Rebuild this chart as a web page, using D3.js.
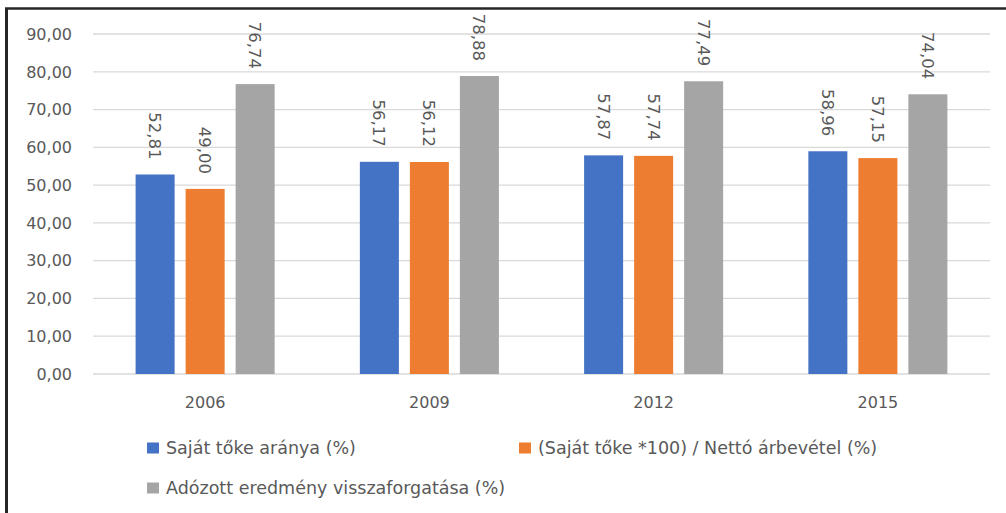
<!DOCTYPE html>
<html>
<head>
<meta charset="utf-8">
<script src="https://cdn.jsdelivr.net/npm/d3@7"></script>
<style>
  body { margin: 0; background: #fff; }
  text { font-family: "DejaVu Sans", sans-serif; fill: #595959; }
</style>
</head>
<body>
<script>
// chart values
var years = ["2006", "2009", "2012", "2015"];
var seriesNames = [
    "Saját tőke aránya (%)",
    "(Saját tőke *100) / Nettó árbevétel (%)",
    "Adózott eredmény visszaforgatása (%)"
];
var sajatToke = [52.81, 56.17, 57.87, 58.96];
var sajatTokeArbevetel = [49.00, 56.12, 57.74, 57.15];
var visszaforgatas = [76.74, 78.88, 77.49, 74.04];
var yTicks = [0, 10, 20, 30, 40, 50, 60, 70, 80, 90];
var colors = ["#4472C4", "#ED7D31", "#A5A5A5"];

var seriesValues = [sajatToke, sajatTokeArbevetel, visszaforgatas];

var svg = d3.select("body").append("svg")
    .attr("width", 1006)
    .attr("height", 513);

// frame (left + top)
svg.append("line").attr("x1", 6.5).attr("y1", 8).attr("x2", 6.5).attr("y2", 513)
    .style("stroke", "#262626").style("stroke-width", 3);
svg.append("line").attr("x1", 5).attr("y1", 8.5).attr("x2", 1006).attr("y2", 8.5)
    .style("stroke", "#262626").style("stroke-width", 2.5);

var fmt = function (v) { return d3.format(".2f")(v).replace(".", ","); };

var y = d3.scaleLinear()
    .domain([0, 90])
    .range([374, 34]);

var x0 = d3.scaleBand()
    .domain(years)
    .range([93, 990])
    .paddingInner(0.38)
    .paddingOuter(0.19);

var x1 = d3.scaleBand()
    .domain([0, 1, 2])
    .range([0, x0.bandwidth()])
    .paddingInner(0.22);

// gridlines
svg.selectAll("line.grid")
    .data(yTicks)
    .enter()
    .append("line")
    .attr("class", "grid")
    .attr("x1", 93)
    .attr("x2", 990)
    .attr("y1", function (d) { return y(d); })
    .attr("y2", function (d) { return y(d); })
    .style("stroke", "#d9d9d9")
    .style("stroke-width", 1.3);

// y labels
svg.selectAll("text.ytick")
    .data(yTicks)
    .enter()
    .append("text")
    .attr("class", "ytick")
    .attr("x", 72)
    .attr("y", function (d) { return y(d); })
    .attr("dy", "0.36em")
    .attr("text-anchor", "end")
    .style("font-size", "16px")
    .text(function (d) { return fmt(d); });

// x labels
svg.selectAll("text.xtick")
    .data(years)
    .enter()
    .append("text")
    .attr("class", "xtick")
    .attr("x", function (d) { return x0(d) + x0.bandwidth() / 2; })
    .attr("y", 408)
    .attr("text-anchor", "middle")
    .style("font-size", "16px")
    .text(function (d) { return d; });

// bars + labels
var rows = [];
seriesValues.forEach(function (vals, s) {
    vals.forEach(function (v, i) {
        rows.push({ year: years[i], s: s, value: v });
    });
});

svg.selectAll("rect.bar")
    .data(rows)
    .enter()
    .append("rect")
    .attr("class", "bar")
    .attr("x", function (d) { return x0(d.year) + x1(d.s); })
    .attr("y", function (d) { return y(d.value); })
    .attr("width", x1.bandwidth())
    .attr("height", function (d) { return y(0) - y(d.value); })
    .style("fill", function (d) { return colors[d.s]; });

svg.selectAll("text.vlabel")
    .data(rows)
    .enter()
    .append("text")
    .attr("class", "vlabel")
    .attr("transform", function (d) {
        var cx = x0(d.year) + x1(d.s) + x1.bandwidth() / 2;
        return "translate(" + cx + "," + (y(d.value) - 15) + ") rotate(90)";
    })
    .attr("dy", "0.36em")
    .attr("text-anchor", "end")
    .style("font-size", "16.5px")
    .text(function (d) { return fmt(d.value); });

// legend
var legendPos = [[147, 448], [519, 448], [147, 488]];
var legend = svg.selectAll("g.legend")
    .data(seriesNames)
    .enter()
    .append("g")
    .attr("class", "legend")
    .attr("transform", function (d, i) { return "translate(" + legendPos[i][0] + "," + legendPos[i][1] + ")"; });

legend.append("rect")
    .attr("x", 0)
    .attr("y", -5.5)
    .attr("width", 12)
    .attr("height", 11)
    .style("fill", function (d, i) { return colors[i]; });

legend.append("text")
    .attr("x", 19)
    .attr("y", 0)
    .attr("dy", "0.36em")
    .style("font-size", "17.5px")
    .text(function (d) { return d; });
</script>
</body>
</html>
